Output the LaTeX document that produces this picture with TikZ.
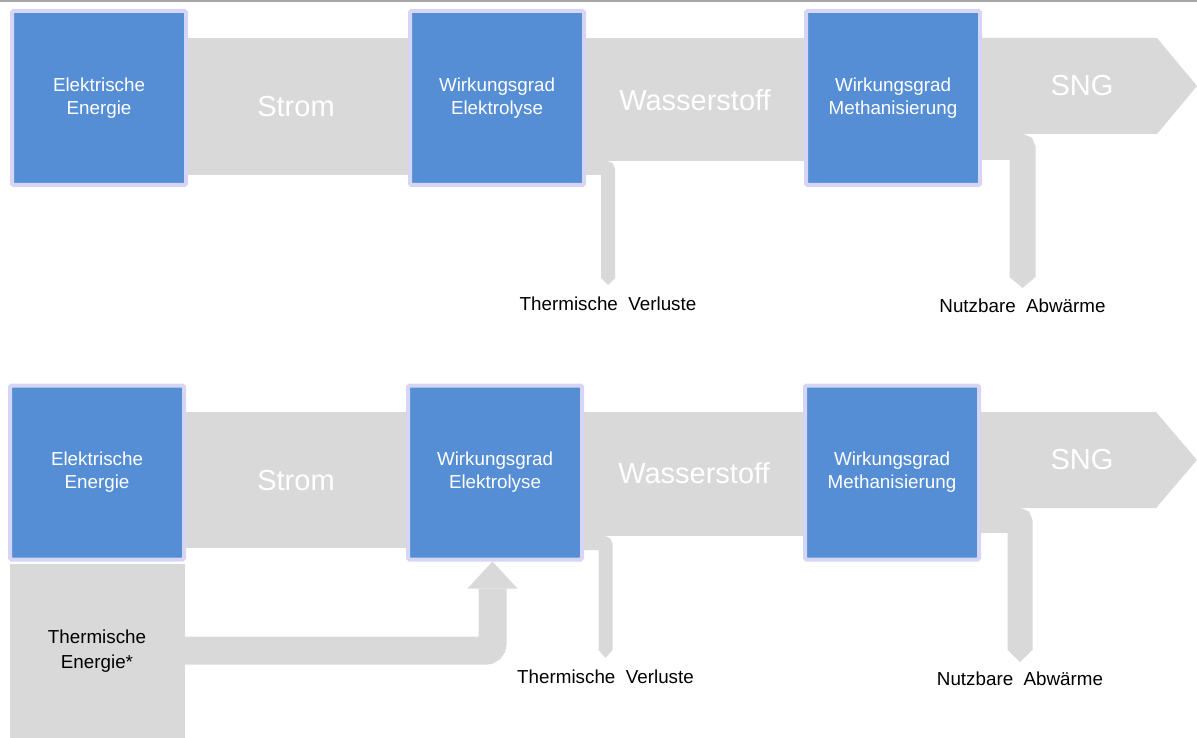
\documentclass[tikz,border=0pt]{standalone}
\usepackage{fontspec}
\setmainfont{Liberation Sans}
\usetikzlibrary{arrows.meta,backgrounds,positioning}
\definecolor{boxblau}{HTML}{558ED5}
\definecolor{boxrand}{HTML}{D6D6F4}
\definecolor{flussgrau}{HTML}{D9D9D9}
\definecolor{linie}{HTML}{A6A6A6}
\tikzset{
  stufe/.style={draw=boxrand, line width=4pt, fill=boxblau, rounded corners=1.5pt,
    minimum width=174pt, minimum height=174pt, inner sep=0pt, text=white,
    align=center, font=\fontsize{18.8}{23}\selectfont},
  quelle/.style={fill=flussgrau, minimum width=175pt, minimum height=174pt,
    inner sep=0pt, align=center, font=\fontsize{18.8}{25}\selectfont},
  fluss/.style={fill=flussgrau},
  flusstext/.style={text=white, font=\fontsize{29}{34}\selectfont},
  abgang/.style={draw=flussgrau, rounded corners=2pt},
  verlust/.style={anchor=base, font=\fontsize{18.8}{23}\selectfont}
}
\begin{document}
\begin{tikzpicture}[x=1pt,y=-1pt]
\useasboundingbox (0,0) rectangle (1197,738);
\draw[linie, line width=2.5pt] (0,1.2) -- (1197,1.2);

\node[stufe] (E1) at (99,98) {Elektrische\\Energie};
\node[stufe, right=220pt of E1] (W1) {Wirkungsgrad\\Elektrolyse};
\node[stufe, right=218pt of W1] (M1) {Wirkungsgrad\\Methanisierung};

\node[stufe] (E2) at (97,472.5) {Elektrische\\Energie};
\node[stufe, right=220pt of E2] (W2) {Wirkungsgrad\\Elektrolyse};
\node[stufe, right=219pt of W2] (M2) {Wirkungsgrad\\Methanisierung};
\node[quelle, below=2pt of E2] (T2) {Thermische\\Energie*};

\coordinate (vl1) at (608,285);
\coordinate (ab1) at (1022.5,288);
\coordinate (vl2) at (605.5,658);
\coordinate (ab2) at (1020,662);

\begin{scope}[on background layer]
\fill[fluss] (E1.center |- 0,38) rectangle (W1.center |- 0,175);
\fill[fluss] (W1.center |- 0,38) rectangle (M1.center |- 0,161);
\fill[fluss] (M1.center |- 0,38) -- (1157,38) -- (1197,86) -- (1157,134) -- (M1.center |- 0,134) -- cycle;
\draw[abgang, line width=14pt, -{Triangle[width=14pt,length=7pt,line width=0pt]}] (W1.center |- 0,168) -| (vl1);
\draw[abgang, line width=26pt, -{Triangle[width=26pt,length=11pt,line width=0pt]}] (M1.center |- 0,147) -| (ab1);

\fill[fluss] (E2.center |- 0,412) rectangle (W2.center |- 0,548);
\fill[fluss] (W2.center |- 0,412) rectangle (M2.center |- 0,536);
\fill[fluss] (M2.center |- 0,412) -- (1156,412) -- (1197,460) -- (1156,508) -- (M2.center |- 0,508) -- cycle;
\draw[abgang, line width=14pt, -{Triangle[width=14pt,length=8pt,line width=0pt]}] (W2.center |- 0,543) -| (vl2);
\draw[abgang, line width=25pt, -{Triangle[width=25pt,length=12pt,line width=0pt]}] (M2.center |- 0,520.5) -| (ab2);
\end{scope}

\draw[abgang, line width=28pt, rounded corners=7pt,
  -{Triangle[width=50pt,length=27pt,line width=0pt]}] (T2.east) -| ([xshift=-2.5pt]W2.south);

\node[flusstext] (s1) at (296,107) {Strom};
\node[flusstext] (h1) at (695,100) {Wasserstoff};
\node[flusstext] (g1) at (1082,86) {SNG};
\node[flusstext] (s2) at (296,481) {Strom};
\node[flusstext] (h2) at (694,473) {Wasserstoff};
\node[flusstext] (g2) at (1082,460) {SNG};

\node[verlust] (tv1) at ([yshift=-25pt]vl1) {Thermische\ \ Verluste};
\node[verlust] (na1) at ([yshift=-24pt]ab1) {Nutzbare\ \ Abwärme};
\node[verlust] (tv2) at ([yshift=-25pt]vl2) {Thermische\ \ Verluste};
\node[verlust] (na2) at ([yshift=-23pt]ab2) {Nutzbare\ \ Abwärme};
\end{tikzpicture}
\end{document}
